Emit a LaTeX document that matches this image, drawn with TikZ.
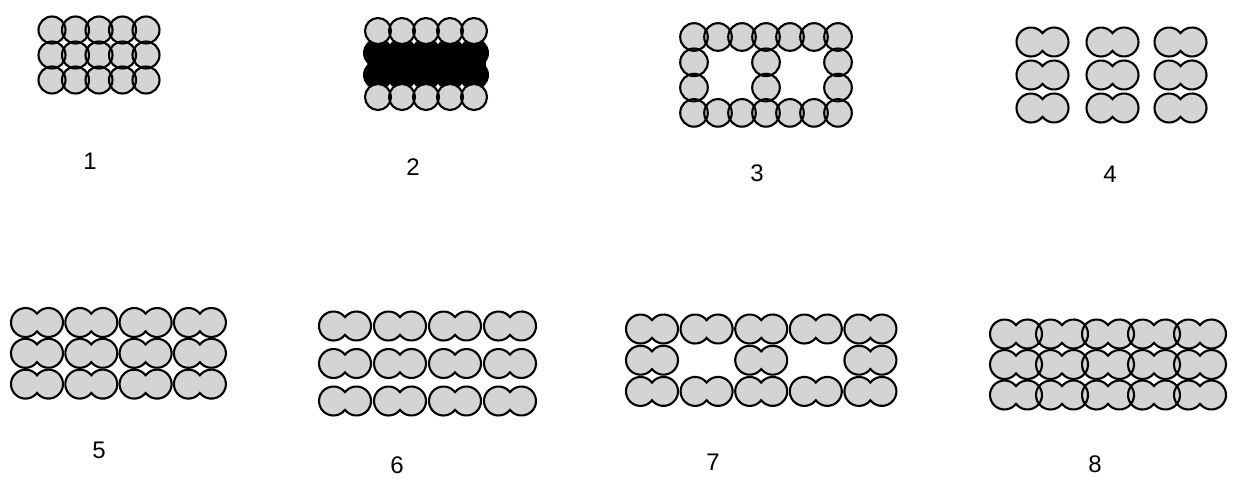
\documentclass[tikz,border=0pt]{standalone}
\usepackage{fontspec}
\setmainfont{Liberation Sans}
\tikzset{
  ring/.style={draw=black, line width=2.1pt},
  grain/.style={fill=black!17},
  dark/.style={fill=black, draw=black, line width=2pt},
  lab/.style={font=\fontsize{24}{28}\selectfont, inner sep=0pt}
}
% peanut: union of two circles, radius 14.5, centres 23 apart
\newcommand{\pnshape}[3]{\path[#3] (#1,#2) ++(0,8.83) arc[start angle=37.5, end angle=322.5, radius=14.5] arc[start angle=-142.5, end angle=142.5, radius=14.5] -- cycle;}
\begin{document}
\begin{tikzpicture}[x=1pt,y=-1pt]
\useasboundingbox (0,0) rectangle (1239,480);
\fill[white] (0,0) rectangle (1239,480);

% ---------- figure 1 ----------
\foreach \i in {0,...,4}{\foreach \j in {0,1,2}{
  \fill[grain] ({52+23.5*\i},{30+25*\j}) circle[radius=13.5];}}
\foreach \i in {0,...,4}{\foreach \j in {0,1,2}{
  \draw[ring] ({52+23.5*\i},{30+25*\j}) circle[radius=13.5];}}

% ---------- figure 2 ----------
\fill[black] (370,50) rectangle (486,80);
\foreach \i in {0,...,4}{\foreach \j in {1,2}{
  \path[dark] ({378+24*\i},{31+22*\j}) circle[radius=14];}}
\foreach \i in {0,...,4}{\foreach \j in {0,3}{
  \fill[grain] ({378+24*\i},{31+22*\j}) circle[radius=13];}}
\foreach \i in {0,...,4}{\foreach \j in {0,3}{
  \draw[ring] ({378+24*\i},{31+22*\j}) circle[radius=13];}}

% ---------- figure 3 ----------
\foreach \i/\j in {0/0,1/0,2/0,3/0,4/0,5/0,6/0,0/1,3/1,6/1,0/2,3/2,6/2,0/3,1/3,2/3,3/3,4/3,5/3,6/3}{
  \fill[grain] ({694+24*\i},{37+25.3*\j}) circle[radius=13.8];}
\foreach \i/\j in {0/0,1/0,2/0,3/0,4/0,5/0,6/0,0/1,3/1,6/1,0/2,3/2,6/2,0/3,1/3,2/3,3/3,4/3,5/3,6/3}{
  \draw[ring] ({694+24*\i},{37+25.3*\j}) circle[radius=13.8];}

% ---------- figure 4 ----------
\foreach \x in {1042.5,1112.5,1180.5}{\foreach \y in {42,75,108}{
  \pnshape{\x}{\y}{grain}}}
\foreach \x in {1042.5,1112.5,1180.5}{\foreach \y in {42,75,108}{
  \pnshape{\x}{\y}{ring}}}

% ---------- figure 5 ----------
\foreach \i in {0,...,3}{\foreach \j in {0,1,2}{
  \pnshape{37+54.3*\i}{322.5+30.8*\j}{grain}}}
\foreach \i in {0,...,3}{\foreach \j in {0,1,2}{
  \pnshape{37+54.3*\i}{322.5+30.8*\j}{ring}}}

% ---------- figure 6 ----------
\foreach \i in {0,...,3}{\foreach \j in {0,1,2}{
  \pnshape{345+55*\i}{326+37.5*\j}{grain}}}
\foreach \i in {0,...,3}{\foreach \j in {0,1,2}{
  \pnshape{345+55*\i}{326+37.5*\j}{ring}}}

% ---------- figure 7 ----------
\foreach \i/\j in {0/0,1/0,2/0,3/0,4/0,0/1,2/1,4/1,0/2,1/2,2/2,3/2,4/2}{
  \pnshape{652+54.6*\i}{329+31.2*\j}{grain}}
\foreach \i/\j in {0/0,1/0,2/0,3/0,4/0,0/1,2/1,4/1,0/2,1/2,2/2,3/2,4/2}{
  \pnshape{652+54.6*\i}{329+31.2*\j}{ring}}

% ---------- figure 8 ----------
\foreach \i in {0,...,4}{\foreach \j in {0,1,2}{
  \pnshape{1016+46*\i}{334+30.5*\j}{grain}}}
\foreach \i in {0,...,4}{\foreach \j in {0,1,2}{
  \pnshape{1016+46*\i}{334+30.5*\j}{ring}}}

% ---------- labels ----------
\node[lab] (l1) at (90,161) {1};
\node[lab] (l2) at (413,167) {2};
\node[lab] (l3) at (757,173) {3};
\node[lab] (l4) at (1110,174) {4};
\node[lab] (l5) at (99,450) {5};
\node[lab] (l6) at (397,465) {6};
\node[lab] (l7) at (713,462) {7};
\node[lab] (l8) at (1095,464) {8};
\end{tikzpicture}
\end{document}
